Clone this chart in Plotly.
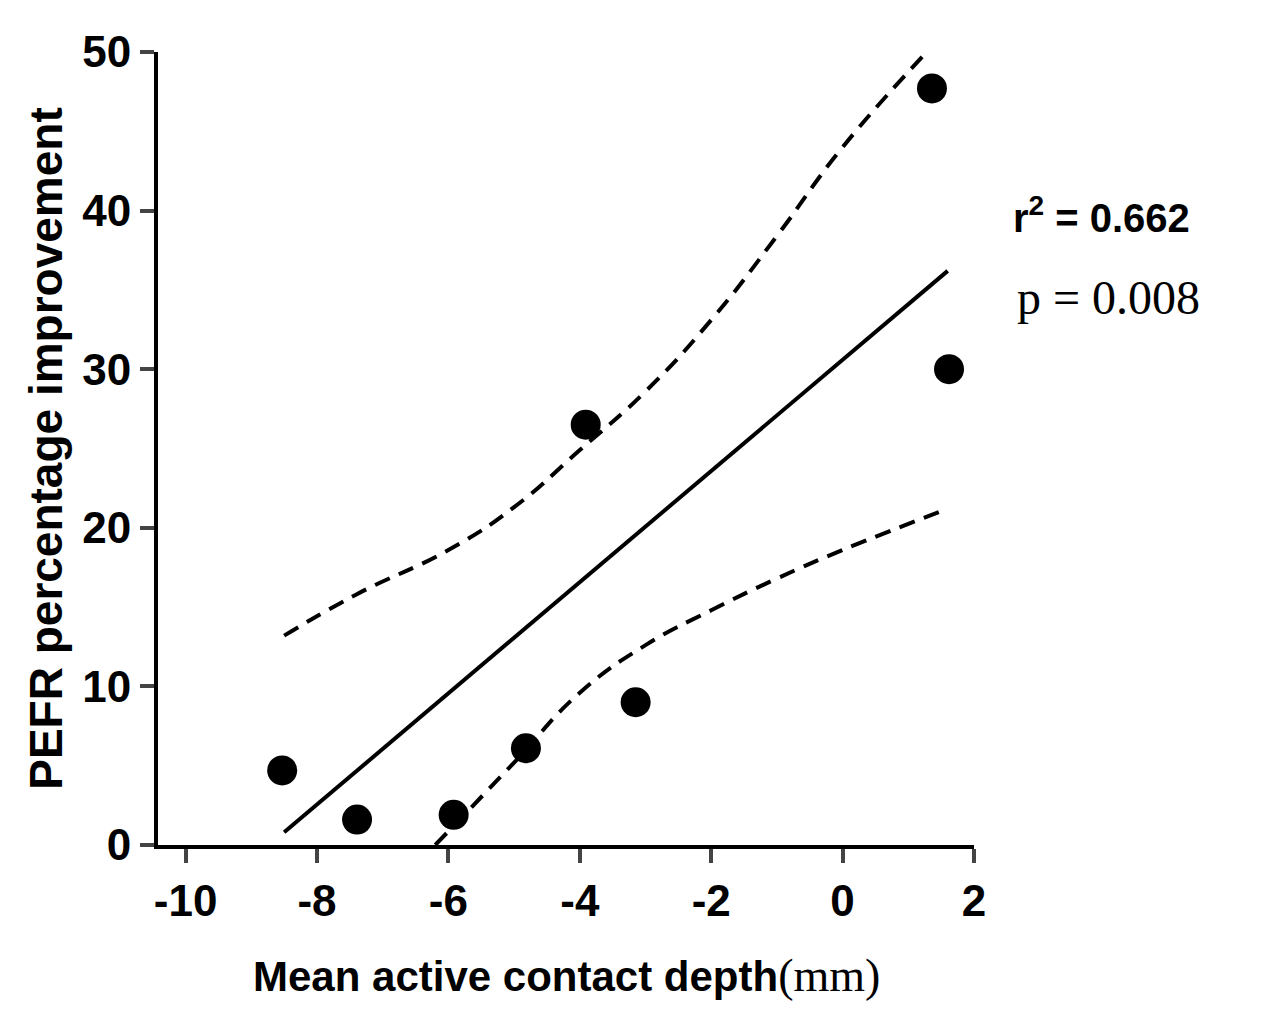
import plotly.graph_objects as go

x_pts = [-8.53, -7.39, -5.92, -4.82, -3.91, -3.15, 1.36, 1.62]
y_pts = [4.7, 1.6, 1.9, 6.1, 26.5, 9.0, 47.7, 30.0]

fit_x = [-8.5, 1.6]
fit_y = [0.8, 36.2]

upper_x = [-8.5, -7.4, -6.0, -5.0, -4.0, -3.0, -2.0, -1.0, 0.0, 1.35]
upper_y = [13.2, 15.8, 18.6, 21.3, 24.9, 28.6, 33.1, 38.4, 44.0, 50.3]
lower_x = [-6.2, -5.0, -4.0, -3.0, -2.0, -1.0, 0.0, 1.6]
lower_y = [0.0, 5.2, 9.6, 12.6, 14.8, 16.8, 18.6, 21.2]

x_ticks = [-10, -8, -6, -4, -2, 0, 2]
x_labels = ["-10", "-8", "-6", "-4", "-2", "0", "2"]
y_ticks = [0, 10, 20, 30, 40, 50]

fig = go.Figure()
dash = dict(color="black", width=4, dash="16px,10px")
fig.add_trace(go.Scatter(x=upper_x, y=upper_y, mode="lines", line=dict(dash, shape="spline", smoothing=1.3)))
fig.add_trace(go.Scatter(x=lower_x, y=lower_y, mode="lines", line=dict(dash, shape="spline", smoothing=1.3)))
fig.add_trace(go.Scatter(x=fit_x, y=fit_y, mode="lines", line=dict(color="black", width=4)))
fig.add_trace(go.Scatter(x=x_pts, y=y_pts, mode="markers", marker=dict(color="black", size=30)))

axfont = dict(family="Arial, Liberation Sans", size=44, color="black", weight="bold")
fig.update_layout(
    width=1266, height=1018, showlegend=False,
    plot_bgcolor="white", paper_bgcolor="white",
    margin=dict(l=150, r=300, t=44, b=181),
    xaxis=dict(range=[-10.42, 2], tickvals=x_ticks, ticktext=x_labels, ticks="outside", ticklen=14, tickwidth=4,
               showline=True, linewidth=4, linecolor="black", showgrid=False, zeroline=False,
               tickfont=axfont),
    yaxis=dict(range=[0, 50], tickvals=y_ticks, ticks="outside", ticklen=14, tickwidth=4,
               showline=True, linewidth=4, linecolor="black", showgrid=False, zeroline=False,
               tickfont=axfont,
               title=dict(text="PEFR percentage improvement", font=dict(axfont, size=46), standoff=6)),
)
fig.add_annotation(xref="paper", yref="paper", x=0.5, y=-0.13, xanchor="center", yanchor="top",
                   showarrow=False,
                   text="<b>Mean active contact depth</b><span style='font-family:Liberation Serif, Times New Roman;font-size:46px'>(mm)</span>",
                   font=dict(family="Arial, Liberation Sans", size=42, color="black"))
fig.add_annotation(xref="paper", yref="paper", x=1.045, y=0.795, xanchor="left", yanchor="middle",
                   showarrow=False, text="<b>r<sup>2</sup> = 0.662</b>",
                   font=dict(family="Arial, Liberation Sans", size=40, color="black"))
fig.add_annotation(xref="paper", yref="paper", x=1.05, y=0.69, xanchor="left", yanchor="middle",
                   showarrow=False, text="p = 0.008",
                   font=dict(family="Liberation Serif, Times New Roman", size=48, color="black"))
fig.write_html("out.html")
